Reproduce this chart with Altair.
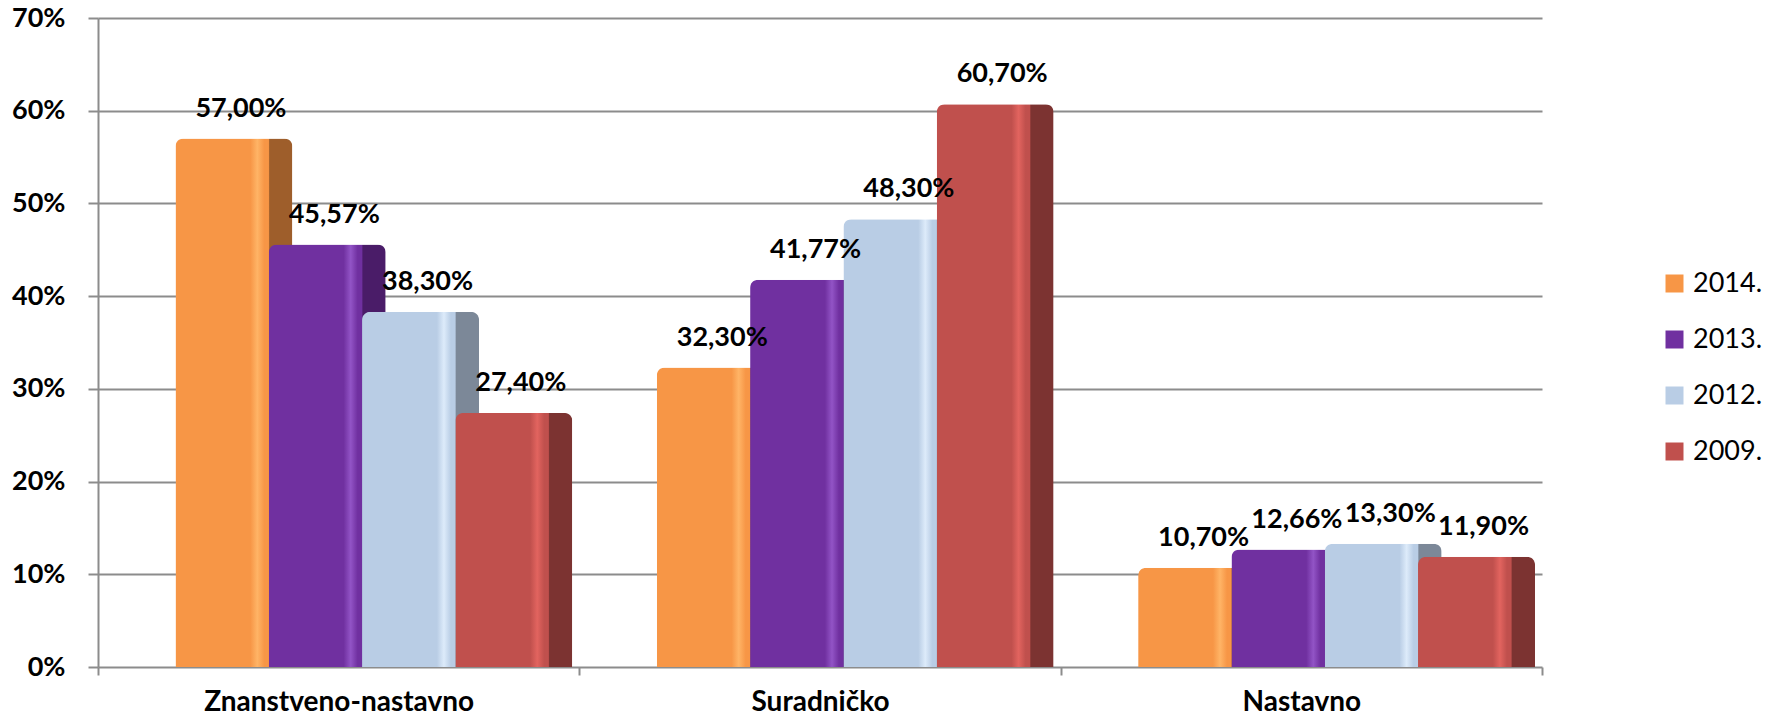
import altair as alt
import pandas as pd

categories = ["Znanstveno-nastavno", "Suradničko", "Nastavno"]
years = ["2014.", "2013.", "2012.", "2009."]
v2014 = [57.00, 32.30, 10.70]
v2013 = [45.57, 41.77, 12.66]
v2012 = [38.30, 48.30, 13.30]
v2009 = [27.40, 60.70, 11.90]
y_ticks = [0, 10, 20, 30, 40, 50, 60, 70]

series = {"2014.": v2014, "2013.": v2013, "2012.": v2012, "2009.": v2009}
rows = []
for yr in years:
    for cat, v in zip(categories, series[yr]):
        rows.append({"cat": cat, "year": yr, "value": v,
                     "label": f"{v:.2f}".replace(".", ",") + "%"})
df = pd.DataFrame(rows)

front = {"2014.": "#F79646", "2013.": "#7030A0", "2012.": "#B9CDE5", "2009.": "#C0504D"}
hl = {"2014.": "#FFB466", "2013.": "#9254C6", "2012.": "#DDEBFA", "2009.": "#E2645F"}
side = {"2014.": "#9E5E2B", "2013.": "#4A1C68", "2012.": "#7C8898", "2009.": "#7C3331"}

x_scale = alt.Scale(domain=categories, range=[0, 1444], paddingInner=0, paddingOuter=0)
xo_scale = alt.Scale(domain=years, range=[89.3, 462.5], paddingInner=0, paddingOuter=0)
y_scale = alt.Scale(domain=[0, 70], nice=False)

x_enc = alt.X("cat:N", scale=x_scale, sort=categories, title=None,
              axis=alt.Axis(domain=False, tickBand="extent", ticks=True, tickSize=8,
                            tickColor="#8c8c8c", tickWidth=2, labelAngle=0,
                            labelFont="Lato", labelFontWeight="bold", labelFontSize=28,
                            labelColor="#000000", labelPadding=13, grid=False,
                            labelLimit=0))
y_enc = alt.Y("value:Q", scale=y_scale, title=None,
              axis=alt.Axis(values=y_ticks, labelExpr="datum.value + '%'",
                            grid=True, gridColor="#8c8c8c", gridWidth=2,
                            domain=True, domainColor="#8c8c8c", domainWidth=2,
                            ticks=True, tickSize=10, tickColor="#8c8c8c", tickWidth=2,
                            labelFont="Lato", labelFontWeight="bold", labelFontSize=27,
                            labelColor="#000000", labelPadding=23))
xo_enc = alt.XOffset("year:N", scale=xo_scale, sort=years)

layers = []
for yr in years:
    grad = alt.Gradient(
        gradient="linear", x1=0, x2=1, y1=0, y2=0,
        stops=[
            alt.GradientStop(color=front[yr], offset=0),
            alt.GradientStop(color=front[yr], offset=0.64),
            alt.GradientStop(color=hl[yr], offset=0.70),
            alt.GradientStop(color=front[yr], offset=0.76),
            alt.GradientStop(color=front[yr], offset=0.795),
            alt.GradientStop(color=side[yr], offset=0.805),
            alt.GradientStop(color=side[yr], offset=1),
        ])
    layer = alt.Chart(df).transform_filter(alt.datum.year == yr).mark_bar(
        width=117, fill=grad,
        cornerRadiusTopLeft=8, cornerRadiusTopRight=8
    ).encode(x=x_enc, xOffset=xo_enc, y=y_enc)
    layers.append(layer)

text = alt.Chart(df).mark_text(
    dx=7, dy=-22, baseline="alphabetic", align="center",
    font="Lato", fontWeight="bold", fontSize=27, color="#000000"
).encode(x=x_enc, xOffset=xo_enc, y=y_enc, text="label:N")

legend_layer = alt.Chart(df).mark_square(opacity=0).encode(
    x=x_enc, xOffset=xo_enc, y=y_enc,
    color=alt.Color("year:N", sort=years,
                    scale=alt.Scale(domain=years, range=[front[y] for y in years]),
                    legend=alt.Legend(orient="none", legendX=1563, legendY=252, title=None,
                                      symbolType="square", symbolSize=324,
                                      symbolOpacity=1, symbolStrokeWidth=0,
                                      labelExpr="datum.value",
                                      labelFont="Lato", labelFontSize=27,
                                      labelColor="#000000", labelOffset=5,
                                      rowPadding=28, padding=0))
)

chart = alt.layer(*layers, text, legend_layer).properties(
    width=1515, height=649,
    padding={"left": 90, "top": 10, "right": 150, "bottom": 46},
    autosize=alt.AutoSizeParams(type="none"),
    background="#ffffff",
).configure_view(strokeWidth=0)

chart.save("out.html", embed_options={"renderer": "svg", "actions": False})
